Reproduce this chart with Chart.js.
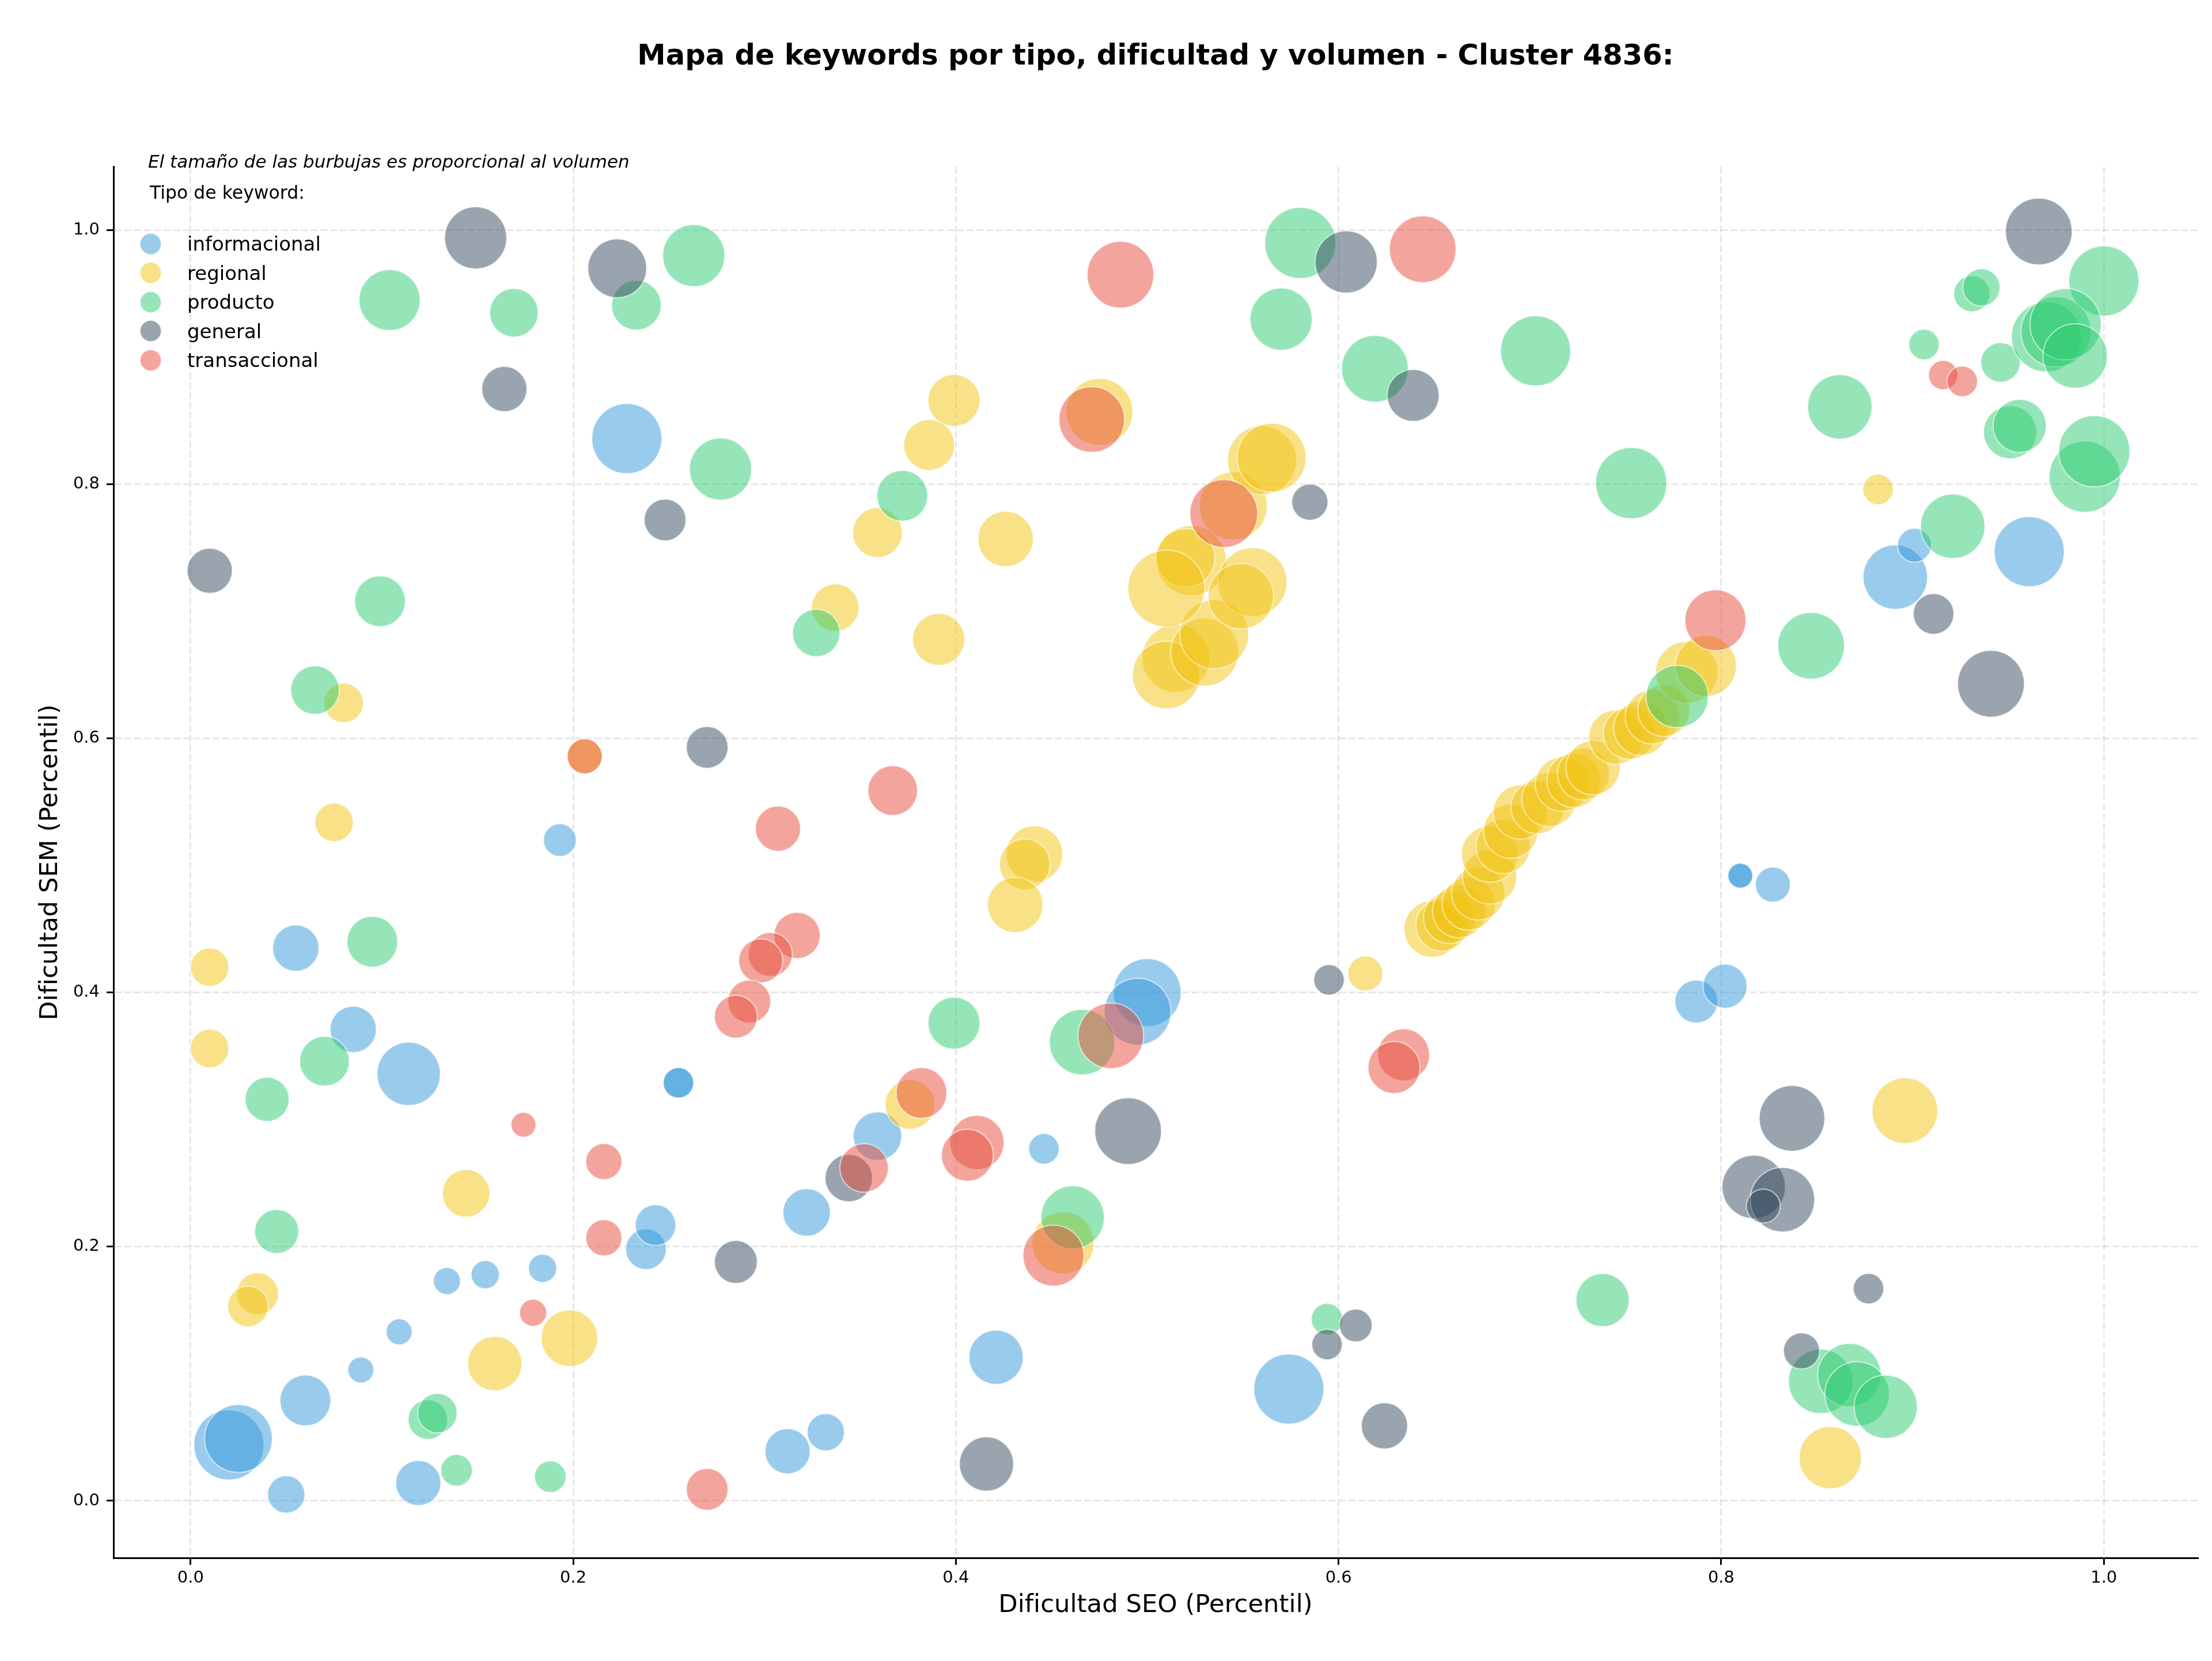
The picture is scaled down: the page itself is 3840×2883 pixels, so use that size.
<!DOCTYPE html>
<html lang="es">
<head>
<meta charset="utf-8">
<title>Mapa de keywords - Cluster 4836</title>
<script src="https://cdn.jsdelivr.net/npm/chart.js@4.4.1/dist/chart.umd.min.js"></script>
<style>
  html, body { margin: 0; padding: 0; background: #fff; }
  #wrap { position: relative; width: 3840px; height: 2883px; font-family: 'DejaVu Sans', sans-serif; color: #000; }
  #grafico { display: block; }
  .nota { position: absolute; left: 257px; top: 261px; font-size: 31px; font-style: italic; line-height: 38px; white-space: nowrap; }
  .tipo { position: absolute; left: 260px; top: 315px; font-size: 31.5px; line-height: 38px; white-space: nowrap; }
  .item { position: absolute; left: 243px; height: 40px; display: flex; align-items: center; font-size: 34px; white-space: nowrap; }
  .item .punto { width: 35px; height: 35px; border-radius: 50%; border: 1px solid rgba(255,255,255,0.6); margin-right: 45px; }
</style>
</head>
<body>
<div id="wrap">
  <canvas id="grafico" width="3840" height="2883"></canvas>
  <div class="nota">El tamaño de las burbujas es proporcional al volumen</div>
  <div class="tipo">Tipo de keyword:</div>
  <div id="leyenda"></div>
</div>
<script>
// [dificultad SEO, dificultad SEM, volumen]
const informacional = [
  [0.020, 0.044, 3844], [0.025, 0.049, 3600], [0.050, 0.005, 1089], [0.060, 0.079, 2025],
  [0.089, 0.103, 529], [0.109, 0.133, 529], [0.119, 0.014, 1600], [0.134, 0.173, 576],
  [0.154, 0.178, 625], [0.184, 0.183, 625], [0.114, 0.336, 3136], [0.085, 0.371, 1681],
  [0.055, 0.435, 1681], [0.193, 0.520, 841], [0.238, 0.198, 1296], [0.243, 0.217, 1296],
  [0.255, 0.329, 729], [0.255, 0.329, 729], [0.228, 0.836, 3844], [0.312, 0.039, 1600],
  [0.332, 0.054, 1089], [0.322, 0.227, 1764], [0.359, 0.287, 1849], [0.421, 0.113, 2304],
  [0.446, 0.277, 729], [0.500, 0.400, 3600], [0.495, 0.385, 3481], [0.574, 0.088, 3844],
  [0.787, 0.393, 1444], [0.802, 0.405, 1521], [0.810, 0.492, 484], [0.810, 0.492, 484],
  [0.827, 0.485, 961], [0.891, 0.727, 3249], [0.901, 0.752, 900], [0.961, 0.747, 3844]
];

const regional = [
  [0.010, 0.420, 1156], [0.010, 0.356, 1156], [0.035, 0.163, 1369], [0.030, 0.153, 1296],
  [0.144, 0.242, 1764], [0.159, 0.108, 2304], [0.198, 0.128, 2500], [0.080, 0.628, 1225],
  [0.075, 0.534, 1156], [0.206, 0.586, 961], [0.399, 0.866, 2116], [0.386, 0.831, 2025],
  [0.359, 0.762, 1936], [0.426, 0.757, 2401], [0.337, 0.703, 1764], [0.391, 0.678, 2116],
  [0.475, 0.857, 3481], [0.441, 0.509, 2500], [0.436, 0.501, 2025], [0.431, 0.469, 2401],
  [0.376, 0.312, 1936], [0.456, 0.203, 3025], [0.614, 0.415, 961], [0.896, 0.307, 3364],
  [0.857, 0.034, 3025], [0.882, 0.796, 729],
  [0.515, 0.663, 3600], [0.510, 0.650, 3600], [0.530, 0.668, 3600], [0.535, 0.682, 3721],
  [0.523, 0.740, 3844], [0.520, 0.742, 2704], [0.555, 0.723, 3721], [0.549, 0.712, 3364],
  [0.510, 0.718, 4624], [0.545, 0.783, 3600], [0.560, 0.819, 3721], [0.565, 0.821, 3721],
  [0.649, 0.450, 2500], [0.654, 0.453, 2116], [0.658, 0.459, 2116], [0.663, 0.464, 2209],
  [0.668, 0.470, 2209], [0.673, 0.478, 2209], [0.679, 0.491, 2304], [0.679, 0.509, 2500],
  [0.686, 0.515, 2304], [0.690, 0.527, 2304], [0.695, 0.542, 2304], [0.704, 0.546, 2209],
  [0.710, 0.552, 2304], [0.717, 0.564, 2304], [0.723, 0.567, 2304], [0.728, 0.572, 2116],
  [0.733, 0.577, 2304], [0.745, 0.601, 2304], [0.752, 0.604, 2116], [0.758, 0.608, 2304],
  [0.764, 0.617, 2304], [0.770, 0.622, 2116], [0.782, 0.652, 3025], [0.792, 0.657, 2916]
];

const producto = [
  [0.104, 0.945, 2916], [0.169, 0.935, 1849], [0.263, 0.980, 3025], [0.233, 0.941, 1936],
  [0.099, 0.708, 2025], [0.065, 0.638, 1849], [0.277, 0.812, 3025], [0.372, 0.791, 2025],
  [0.327, 0.683, 1764], [0.095, 0.440, 2025], [0.070, 0.346, 1936], [0.040, 0.316, 1521],
  [0.045, 0.212, 1521], [0.124, 0.064, 1225], [0.129, 0.069, 1225], [0.139, 0.024, 784],
  [0.188, 0.019, 784], [0.399, 0.376, 2116], [0.466, 0.361, 3364], [0.461, 0.223, 3136],
  [0.580, 0.990, 3969], [0.570, 0.930, 3025], [0.619, 0.891, 3481], [0.703, 0.905, 3844],
  [0.753, 0.801, 3969], [0.777, 0.633, 3025], [0.847, 0.673, 3481], [0.862, 0.861, 3249],
  [0.921, 0.767, 3249], [0.906, 0.910, 729], [0.931, 0.950, 1024], [0.936, 0.955, 1089],
  [0.946, 0.896, 1225], [0.951, 0.841, 2209], [0.956, 0.846, 2209], [0.990, 0.806, 3969],
  [0.995, 0.826, 3969], [1.000, 0.960, 3844], [0.970, 0.916, 3844], [0.975, 0.920, 3844],
  [0.980, 0.926, 3969], [0.985, 0.901, 3249], [0.738, 0.158, 2209], [0.594, 0.143, 784],
  [0.852, 0.094, 3249], [0.867, 0.099, 3136], [0.871, 0.084, 3249], [0.886, 0.074, 3136]
];

const general = [
  [0.149, 0.994, 3025], [0.223, 0.970, 2704], [0.164, 0.875, 1600], [0.010, 0.732, 1600],
  [0.248, 0.772, 1369], [0.270, 0.593, 1369], [0.604, 0.975, 3025], [0.639, 0.870, 2116],
  [0.585, 0.786, 1024], [0.966, 0.999, 3481], [0.911, 0.698, 1296], [0.941, 0.643, 3481],
  [0.285, 0.188, 1444], [0.344, 0.254, 1764], [0.490, 0.291, 3481], [0.416, 0.029, 2304],
  [0.595, 0.410, 729], [0.594, 0.123, 729], [0.609, 0.138, 841], [0.624, 0.059, 1681],
  [0.837, 0.301, 3364], [0.817, 0.247, 3136], [0.832, 0.237, 3249], [0.822, 0.232, 900],
  [0.877, 0.167, 729], [0.842, 0.118, 1024]
];

const transaccional = [
  [0.206, 0.586, 961], [0.486, 0.965, 3481], [0.471, 0.851, 3364], [0.367, 0.559, 1936],
  [0.307, 0.529, 1600], [0.317, 0.445, 1681], [0.303, 0.430, 1521], [0.298, 0.425, 1521],
  [0.292, 0.393, 1444], [0.285, 0.381, 1444], [0.382, 0.321, 2025], [0.352, 0.262, 1849],
  [0.411, 0.282, 2304], [0.406, 0.272, 2116], [0.481, 0.366, 3364], [0.451, 0.193, 2916],
  [0.270, 0.009, 1369], [0.174, 0.296, 484], [0.216, 0.267, 1024], [0.216, 0.207, 1024],
  [0.179, 0.148, 576], [0.644, 0.985, 3481], [0.916, 0.886, 676], [0.926, 0.881, 729],
  [0.797, 0.693, 2916], [0.634, 0.351, 2116], [0.629, 0.341, 2116], [0.540, 0.777, 3600]
];

const tiposKeyword = ['informacional', 'regional', 'producto', 'general', 'transaccional'];
const coloresTipo = ['52,152,219', '241,196,15', '46,204,113', '52,73,94', '231,76,60'];
const seriesTipo = [informacional, regional, producto, general, transaccional];
const ticksEjeX = [0, 0.2, 0.4, 0.6, 0.8, 1.0];
const ticksEjeY = [0, 0.2, 0.4, 0.6, 0.8, 1.0];

// area de la burbuja proporcional al volumen
function radioDesdeVolumen(v) {
    return Math.sqrt(v) * 0.98;
}

Chart.defaults.font.family = "'DejaVu Sans', sans-serif";
Chart.defaults.color = '#000';

const datasets = tiposKeyword.map(function (tipo, i) {
    return {
        label: tipo,
        data: seriesTipo[i].map(function (p) { return { x: p[0], y: p[1], r: radioDesdeVolumen(p[2]) }; }),
        backgroundColor: 'rgba(' + coloresTipo[i] + ',0.5)',
        borderColor: 'rgba(255,255,255,0.6)',
        borderWidth: 2,
        order: tiposKeyword.length - i  // el ultimo tipo queda encima
    };
});

const gridComun = {
    color: 'rgba(176,176,176,0.3)',
    lineWidth: 3,
    tickColor: '#000',
    tickLength: 12,
    tickWidth: 3
};

const ctx = document.getElementById('grafico').getContext('2d');
const grafico = new Chart(ctx, {
    type: 'bubble',
    data: { datasets: datasets },
    options: {
        responsive: false,
        devicePixelRatio: 1,
        animation: false,
        layout: { autoPadding: false, padding: { top: 0, right: 25, bottom: 0, left: 0 } },
        plugins: {
            legend: { display: false },
            tooltip: { enabled: false },
            title: {
                display: true,
                fullSize: false,
                text: 'Mapa de keywords por tipo, dificultad y volumen - Cluster 4836:',
                font: { size: 49.6, weight: 'bold' },
                color: '#000',
                padding: { top: 69, bottom: 161 }
            }
        },
        scales: {
            x: {
                type: 'linear',
                min: -0.0403,
                max: 1.049,
                afterBuildTicks: function (s) { s.ticks = ticksEjeX.map(function (v) { return { value: v }; }); },
                afterFit: function (s) { s.height = 179; },
                ticks: {
                    font: { size: 29 },
                    color: '#000',
                    padding: 6,
                    maxRotation: 0,
                    callback: function (v) { return Number(v).toFixed(1); }
                },
                grid: gridComun,
                border: { display: true, color: '#000', width: 3, dash: [12, 5] },
                title: {
                    display: true,
                    text: 'Dificultad SEO (Percentil)',
                    font: { size: 43.4 },
                    color: '#000',
                    padding: { top: 0, bottom: 70 }
                }
            },
            y: {
                type: 'linear',
                min: -0.0449,
                max: 1.0499,
                afterBuildTicks: function (s) { s.ticks = ticksEjeY.map(function (v) { return { value: v }; }); },
                afterFit: function (s) { s.width = 197; },
                ticks: {
                    font: { size: 29 },
                    color: '#000',
                    padding: 12,
                    callback: function (v) { return Number(v).toFixed(1); }
                },
                grid: gridComun,
                border: { display: true, color: '#000', width: 3, dash: [12, 5] },
                title: {
                    display: true,
                    text: 'Dificultad SEM (Percentil)',
                    font: { size: 43.4 },
                    color: '#000',
                    padding: { top: 62, bottom: 0 }
                }
            }
        }
    }
});

// leyenda dentro del area del grafico
const leyenda = document.getElementById('leyenda');
tiposKeyword.forEach(function (tipo, i) {
    const fila = document.createElement('div');
    fila.className = 'item';
    fila.style.top = (403 + i * 50.5) + 'px';
    const punto = document.createElement('span');
    punto.className = 'punto';
    punto.style.background = 'rgba(' + coloresTipo[i] + ',0.5)';
    fila.appendChild(punto);
    fila.appendChild(document.createTextNode(tipo));
    leyenda.appendChild(fila);
});
</script>
</body>
</html>
